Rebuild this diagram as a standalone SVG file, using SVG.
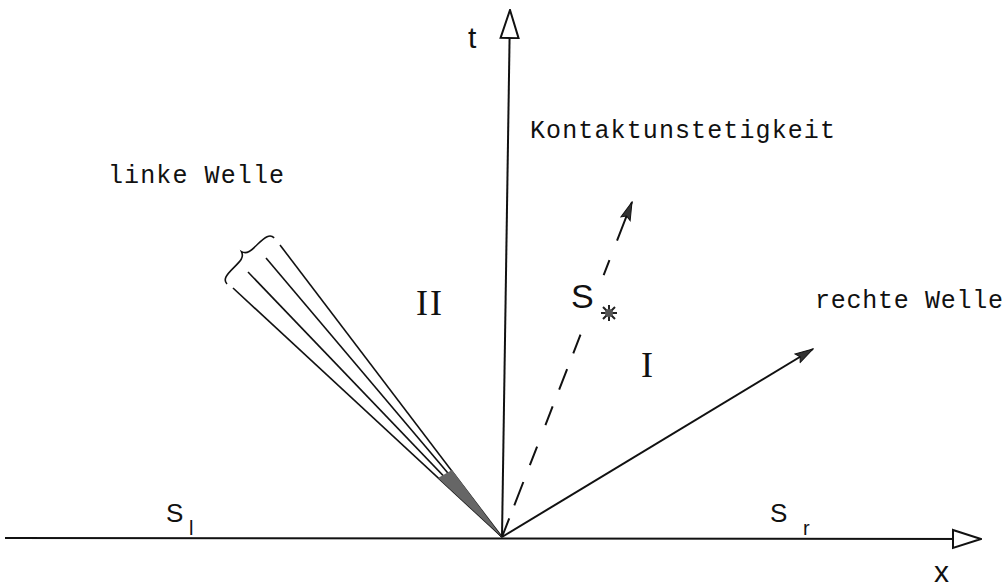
<svg xmlns="http://www.w3.org/2000/svg" width="1008" height="586" viewBox="0 0 1008 586">
<style>
.ax{stroke:#111;stroke-width:2;fill:none}
.fan{stroke:#111;stroke-width:1.6;fill:none}
.mono{font-family:"Liberation Mono","DejaVu Sans Mono",monospace;font-size:25px;fill:#111}
.sans{font-family:"Liberation Sans",Arial,sans-serif;fill:#111}
.serif{font-family:"Liberation Serif","Times New Roman",serif;fill:#111}
</style>
<defs>
<marker id="hollow" markerWidth="30" markerHeight="22" refX="29" refY="11" orient="auto" markerUnits="userSpaceOnUse">
<path d="M1,2 L29,11 L1,20 Z" fill="#fff" stroke="#111" stroke-width="2"/>
</marker>
<marker id="solid" markerWidth="20" markerHeight="12" refX="19" refY="6" orient="auto" markerUnits="userSpaceOnUse">
<path d="M1,1 L19,6 L1,11 L4,6 Z" fill="#333" stroke="#111" stroke-width="1"/>
</marker>
</defs>
<rect width="1008" height="586" fill="#fff"/>
<g id="connectors">
<line id="x-axis" class="ax" x1="5" y1="538" x2="981" y2="539" marker-end="url(#hollow)"/>
<line id="t-axis" class="ax" x1="502" y1="537" x2="510" y2="10" marker-end="url(#hollow)"/>
<line id="contact" class="ax" x1="502" y1="537" x2="632" y2="202" stroke-dasharray="20 14 25 18 20 23 20 18 22 17 20 64 16 21 60" marker-end="url(#solid)"/>
<line id="right-wave" class="ax" stroke-width="1.8" x1="502" y1="537" x2="813" y2="349" marker-end="url(#solid)"/>
</g>
<g id="left-fan">
<line class="fan" stroke-width="2" x1="502" y1="537" x2="233" y2="288"/>
<line class="fan" x1="502" y1="537" x2="248" y2="272"/>
<line class="fan" x1="502" y1="537" x2="266" y2="258"/>
<line class="fan" x1="502" y1="537" x2="280" y2="245"/>
<polygon points="502,537 438,478 452,470" fill="#666"/>
<path class="fan" stroke-width="2" transform="translate(227,284) rotate(-44.4)" d="M0,0 C0,-6 6,-7 16,-7 C26,-7 31,-7 33,-13 C35,-7 40,-7 50,-7 C60,-7 66,-6 66,0"/>
</g>
<g id="star">
<path d="M609,305 L609,321 M601,313 L617,313 M603,307 L615,319 M615,307 L603,319" stroke="#222" stroke-width="2"/>
<circle cx="609" cy="313" r="4" fill="#555"/>
</g>
<g id="labels">
<text class="sans" x="468" y="48" font-size="30">t</text>
<text class="sans" x="934" y="582" font-size="30">x</text>
<text class="mono" x="530" y="138" textLength="305" lengthAdjust="spacing">Kontaktunstetigkeit</text>
<text class="mono" x="108" y="183" textLength="176" lengthAdjust="spacing">linke Welle</text>
<text class="mono" x="815" y="308" textLength="188" lengthAdjust="spacing">rechte Welle</text>
<text class="serif" x="416" y="315" font-size="36" letter-spacing="2">II</text>
<text class="serif" x="647" y="377" font-size="36" text-anchor="middle">I</text>
<text class="sans" x="571" y="308" font-size="34">S</text>
<text class="sans" x="166" y="522" font-size="26">S</text>
<text class="sans" x="189" y="535" font-size="20">l</text>
<text class="sans" x="770" y="522" font-size="26">S</text>
<text class="sans" x="803" y="535" font-size="20">r</text>
</g>
</svg>
